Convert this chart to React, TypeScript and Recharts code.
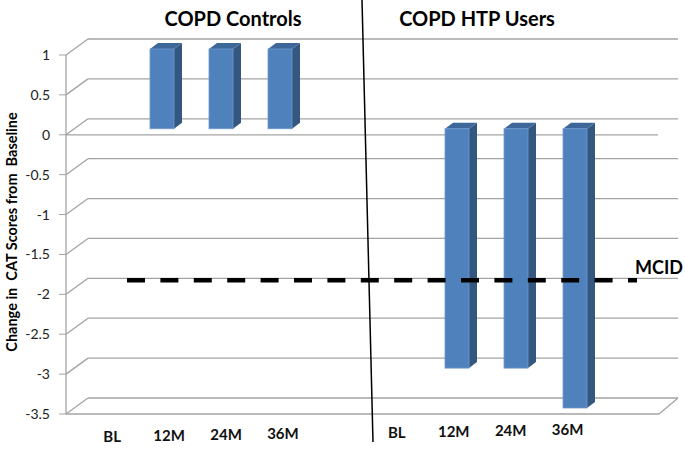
import { Bar, BarChart, CartesianGrid, ReferenceLine, XAxis, YAxis } from 'recharts'

const timepoints = ['BL', '12M', '24M', '36M']
const controlsChange = [0, 1, 1, 1]
const htpUsersChange = [0, -3, -3, -3.5]
const mcid = -1.9
const yTicks = [1, 0.5, 0, -0.5, -1, -1.5, -2, -2.5, -3, -3.5]
const groupTitles = ['COPD Controls', 'COPD HTP Users']
const yAxisTitle = 'Change in  CAT Scores from  Baseline'
const mcidLabel = 'MCID'

const yMax = yTicks[0]
const yMin = yTicks[yTicks.length - 1]

// one empty slot after each group keeps the two panels apart
const data = [
  ...timepoints.map((label, i) => ({ label, value: controlsChange[i] })),
  { label: '', value: null },
  ...timepoints.map((label, i) => ({ label, value: htpUsersChange[i] })),
  { label: '', value: null },
]

// fake 3D: back wall sits up/right of the front plane, bars sit part way back
const WALL_DX = 22
const WALL_DY = 16
const MID_DX = 7
const MID_DY = 6
const BAR_DX = 8
const BAR_DY = 6
const GRID = '#a3a3a3'
const FONT = 'Lato, "Open Sans", sans-serif'

const Bar3D = (props: any) => {
  const { x, y, width, height } = props
  if (!height) return <g />
  const top = Math.min(y, y + height) - MID_DY
  const h = Math.abs(height)
  const left = x + MID_DX
  const right = left + width
  return (
    <g>
      <polygon
        points={`${right},${top} ${right + BAR_DX},${top - BAR_DY} ${right + BAR_DX},${top + h - BAR_DY} ${right},${top + h}`}
        fill="#34577f"
      />
      <polygon
        points={`${left},${top} ${right},${top} ${right + BAR_DX},${top - BAR_DY} ${left + BAR_DX},${top - BAR_DY}`}
        fill="#3d6699"
      />
      <rect x={left} y={top} width={width} height={h} fill="#4f81bd" stroke="#7099cc" strokeWidth={0.8} />
    </g>
  )
}

const WallLine = (props: any) => {
  const { x1, x2, y1, y, height } = props
  const value = yMax - ((y1 - y) / height) * (yMax - yMin)
  return (
    <g>
      <line x1={x1 + WALL_DX} y1={y1 - WALL_DY} x2={x2 + WALL_DX} y2={y1 - WALL_DY} stroke={GRID} strokeWidth={1.3} />
      <line x1={x1} y1={y1} x2={x1 + WALL_DX} y2={y1 - WALL_DY} stroke={GRID} strokeWidth={1.3} />
      {Math.abs(value) < 1e-6 && <line x1={x1} y1={y1} x2={x2 + 2} y2={y1} stroke={GRID} strokeWidth={1.3} />}
    </g>
  )
}

const Floor = (props: any) => {
  const { x1, x2, y1 } = props
  return (
    <g>
      <line x1={x1} y1={y1} x2={x2 + 3} y2={y1} stroke={GRID} strokeWidth={1.3} />
      <line x1={x2 + 3} y1={y1} x2={x2 + WALL_DX} y2={y1 - WALL_DY} stroke={GRID} strokeWidth={1.3} />
    </g>
  )
}

const McidLine = (props: any) => {
  const { x1, x2, y1 } = props
  const yy = y1 - MID_DY
  return (
    <g>
      <line x1={x1 + 61} y1={yy} x2={x2 - 19} y2={yy} stroke="#000" strokeWidth={4.5} strokeDasharray="18 15.4" />
      <text x={x2 + 27} y={yy - 6} textAnchor="end" fontFamily={FONT} fontWeight={700} fontSize={18} fill="#000">
        {mcidLabel}
      </text>
    </g>
  )
}

// category labels follow the slight perspective of the floor
const CategoryTick = (props: any) => {
  const { x, y, payload } = props
  const px = x + 20 - 0.035 * x
  const py = y + (200 - x) * 0.016
  return (
    <text x={px} y={py} dy="0.71em" textAnchor="middle" fill="#111" fontSize={15} fontWeight={700} fontFamily={FONT}>
      {payload.value}
    </text>
  )
}

const App = () => (
  <div style={{ position: 'absolute', left: 0, top: 0, width: 685, height: 450, background: '#fff' }}>
    <BarChart width={685} height={450} data={data} margin={{ top: 55, right: 29, bottom: 6, left: 0 }}>
      <CartesianGrid vertical={false} horizontal={WallLine} />
      <XAxis dataKey="label" height={30} axisLine={false} tickLine={false} tickMargin={10} interval={0} tick={CategoryTick} />
      <YAxis
        width={66}
        domain={[yMin, yMax]}
        ticks={yTicks}
        interval={0}
        tickSize={7}
        tickMargin={9}
        axisLine={{ stroke: GRID, strokeWidth: 1.3 }}
        tickLine={{ stroke: GRID }}
        tick={{ fill: '#222', fontSize: 14, fontFamily: FONT }}
      />
      <Bar dataKey="value" barSize={24} shape={Bar3D} isAnimationActive={false} />
      <ReferenceLine y={yMin} shape={Floor} />
      <ReferenceLine y={mcid} shape={McidLine} />
    </BarChart>
    <svg width={685} height={450} style={{ position: 'absolute', left: 0, top: 0, pointerEvents: 'none' }}>
      <text x={233} y={26} textAnchor="middle" fontFamily={FONT} fontWeight={700} fontSize={20} fill="#000">
        {groupTitles[0]}
      </text>
      <text x={477} y={26} textAnchor="middle" fontFamily={FONT} fontWeight={700} fontSize={20} fill="#000">
        {groupTitles[1]}
      </text>
      <text
        x={13}
        y={232}
        transform="rotate(-90 13 232)"
        textAnchor="middle"
        dominantBaseline="middle"
        fontFamily={FONT}
        fontWeight={700}
        fontSize={14.5}
        fill="#000"
        style={{ whiteSpace: 'pre' }}
      >
        {yAxisTitle}
      </text>
      <line x1={362} y1={0} x2={373} y2={442} stroke="#000" strokeWidth={1.5} />
    </svg>
  </div>
)

export default App
